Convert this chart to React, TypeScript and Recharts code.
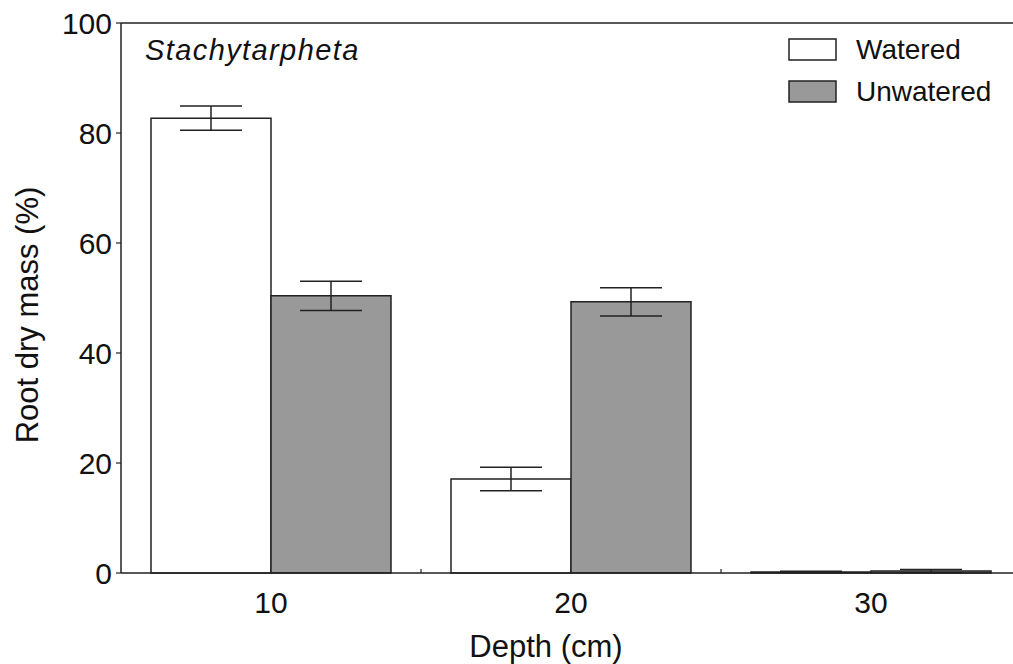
import React from 'react';
import { BarChart, Bar, XAxis, YAxis, ErrorBar, ReferenceLine, Legend, Label } from 'recharts';

const depths = ['10', '20', '30'];
const seriesNames = ['Watered', 'Unwatered'];
const watered = [82.7, 17.1, 0.2];
const wateredErr = [2.2, 2.15, 0.1];
const unwatered = [50.4, 49.3, 0.35];
const unwateredErr = [2.65, 2.55, 0.3];
const yTicks = [0, 20, 40, 60, 80, 100];

const FONT = 'Arial, "Liberation Sans", sans-serif';
const INK = '#222';

const data = depths.map((d, i) => ({
    depth: d,
    watered: watered[i],
    wErr: wateredErr[i],
    unwatered: unwatered[i],
    uErr: unwateredErr[i],
}));

// category label plus a small inward tick at the right edge of each band
const DepthTick = (props: any) => {
    const { x, y, payload } = props;
    const axisY = y - 19;
    return (
        <g>
            <line x1={x + 150} x2={x + 150} y1={axisY - 4} y2={axisY} stroke={INK} strokeWidth={1.2} />
            <text x={x} y={y} dy="0.71em" textAnchor="middle" fontSize={30} fontFamily={FONT} fill="#111">
                {payload.value}
            </text>
        </g>
    );
};

const LegendBox = (props: any) => {
    const items = [...(props.payload || [])].sort(
        (a: any, b: any) => seriesNames.indexOf(a.value) - seriesNames.indexOf(b.value)
    );
    return (
        <div style={{ fontFamily: FONT, fontSize: 28, color: '#111' }}>
            {items.map((entry: any) => (
                <div key={entry.value} style={{ display: 'flex', alignItems: 'center', height: 42 }}>
                    <svg width={50} height={24} style={{ marginRight: 18 }}>
                        <rect x={1} y={1} width={47} height={21} fill={entry.color} stroke={INK} strokeWidth={1.5} />
                    </svg>
                    <span>{entry.value}</span>
                </div>
            ))}
        </div>
    );
};

export default function App() {
    return (
        <div style={{ position: 'fixed', left: 0, top: 0, width: 1013, height: 664, overflow: 'hidden', background: '#fff' }}>
            <BarChart
                width={1040}
                height={664}
                data={data}
                margin={{ top: 23, right: 19, left: 0, bottom: 0 }}
                barCategoryGap={30}
                barGap={0}
            >
                <XAxis
                    dataKey="depth"
                    height={91}
                    axisLine={{ stroke: INK, strokeWidth: 1.5 }}
                    tickLine={false}
                    tickSize={0}
                    tickMargin={19}
                    tick={<DepthTick />}
                    interval={0}
                >
                    <Label
                        value="Depth (cm)"
                        position="insideBottom"
                        offset={7}
                        dx={-25}
                        style={{ fontSize: 31, fontFamily: FONT, fill: '#111' }}
                    />
                </XAxis>
                <YAxis
                    domain={[0, 100]}
                    ticks={yTicks}
                    width={121}
                    axisLine={{ stroke: INK, strokeWidth: 1.5 }}
                    tickLine={{ stroke: INK, strokeWidth: 1.2 }}
                    tickSize={5}
                    tickMargin={4}
                    tick={{ fontSize: 30, fontFamily: FONT, fill: '#111' }}
                >
                    <Label
                        value="Root dry mass (%)"
                        angle={-90}
                        position="insideLeft"
                        offset={27}
                        dy={17}
                        style={{ fontSize: 31, fontFamily: FONT, fill: '#111', textAnchor: 'middle' }}
                    />
                </YAxis>
                <ReferenceLine y={100} stroke={INK} strokeWidth={1.5} />
                <Legend
                    layout="vertical"
                    align="center"
                    verticalAlign="middle"
                    content={<LegendBox />}
                    wrapperStyle={{ left: 788, top: 29, width: 220 }}
                />
                <Bar dataKey="watered" name={seriesNames[0]} fill="#ffffff" stroke={INK} strokeWidth={1.5} isAnimationActive={false}>
                    <ErrorBar dataKey="wErr" width={31} stroke={INK} strokeWidth={1.5} />
                </Bar>
                <Bar dataKey="unwatered" name={seriesNames[1]} fill="#999999" stroke={INK} strokeWidth={1.5} isAnimationActive={false}>
                    <ErrorBar dataKey="uErr" width={31} stroke={INK} strokeWidth={1.5} />
                </Bar>
            </BarChart>
            <div
                style={{
                    position: 'absolute',
                    left: 145,
                    top: 34,
                    fontFamily: FONT,
                    fontStyle: 'italic',
                    fontSize: 29,
                    letterSpacing: '1.4px',
                    color: '#111',
                    lineHeight: '32px',
                }}
            >
                Stachytarpheta
            </div>
        </div>
    );
}
